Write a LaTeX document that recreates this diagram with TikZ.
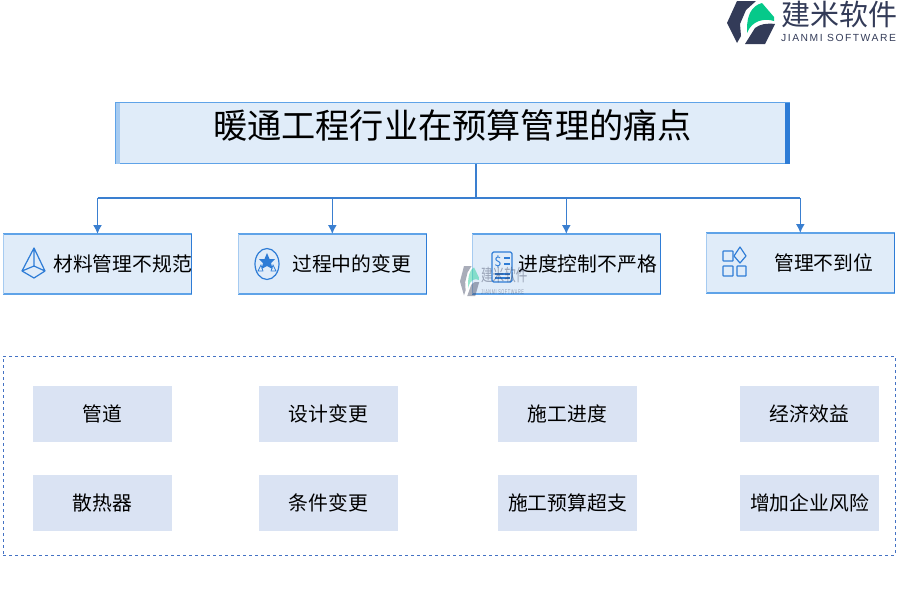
\documentclass[tikz,border=0pt]{standalone}
\usepackage{fontspec}
\setmainfont{Noto Sans CJK SC}
\newfontfamily\latinfont[LetterSpace=15]{Liberation Sans}
\usetikzlibrary{arrows.meta,positioning,calc}
\definecolor{surf}{HTML}{E0ECF9}
\definecolor{bdark}{HTML}{2E7CD6}
\definecolor{blite}{HTML}{A6CBF1}
\definecolor{bmid}{HTML}{5FA3E8}
\definecolor{linkc}{HTML}{3A7FD0}
\definecolor{itemc}{HTML}{DAE3F3}
\definecolor{dashc}{HTML}{4472C4}
\definecolor{logoc}{HTML}{333B58}
\definecolor{logog}{HTML}{06C98A}

\tikzset{
  logomark/.pic={
    \fill[logoc] (0,22) -- (10,0) -- (29,0) -- (19,9) -- (13,23) -- (14,35) -- (10,42) -- cycle;
    \fill[logog] (20,28) .. controls (20,15) and (24,5) .. (35,2) -- (47,16) -- (47,20) .. controls (38,17) and (25,19) .. (20,32) -- cycle;
    \fill[logoc] (18,43) -- (28,27) .. controls (33,23) and (40,22) .. (48,23) -- (38,43) -- cycle;
  },
}

\begin{document}
\begin{tikzpicture}[
  x=1pt,y=-1pt,>={Latex[length=9pt,width=9pt]},
  headbox/.style={draw=bmid, fill=surf, line width=1.5pt, outer sep=0pt, minimum width=674pt, minimum height=61pt, inner sep=0pt},
  cardbox/.style={draw=bmid, fill=surf, line width=1.5pt, outer sep=0pt, minimum width=188pt, minimum height=60pt, inner sep=0pt},
  cardtext/.style={anchor=west, inner sep=0pt, font=\fontsize{19.8pt}{22pt}\selectfont},
  itembox/.style={fill=itemc, outer sep=0pt, minimum width=139pt, minimum height=56pt, inner sep=0pt, font=\fontsize{19.8pt}{22pt}\selectfont},
  link/.style={draw=linkc, line width=1.5pt},
  iconline/.style={draw=bdark, line width=1.2pt, line join=round},
]
\useasboundingbox (0,0) rectangle (900,600);
% logo top right
\pic at (727,1) {logomark};
\node[anchor=west, inner sep=0pt, text=logoc, font=\fontsize{29pt}{30pt}\selectfont] (logotext) at (781.5,14) {建米软件};
\node[anchor=west, inner sep=0pt, text=logoc, font=\latinfont\fontsize{10.3pt}{12pt}\selectfont] (logosub) at (781,38) {JIANMI SOFTWARE};
% heading
\node[headbox] (title) at (452.5,133) {};
\fill[blite] (title.north west) rectangle ($(title.south west)+(4,0)$);
\fill[bdark] ($(title.north east)+(-5,0)$) rectangle (title.south east);
\node[inner sep=0pt, font=\fontsize{34.2pt}{36pt}\selectfont] (titletext) at (452.5,125) {暖通工程行业在预算管理的痛点};
% four cards
\node[cardbox] (c1) at (97.5,264) {};
\node[cardbox, right=46.8pt of c1] (c2) {};
\node[cardbox, right=46pt of c2] (c3) {};
\node[cardbox, right=46pt of c3, yshift=1pt] (c4) {};
\foreach \n in {c1,c2,c3,c4}{
  \draw[blite, line width=1.5pt] (\n.north west) -- (\n.south west);
  \draw[bdark, line width=1.5pt] (\n.north east) -- (\n.south east);
}
\node[cardtext] (l1) at (53,264) {材料管理不规范};
\node[cardtext] (l2) at (292,264) {过程中的变更};
\node[cardtext] (l3) at (518,264) {进度控制不严格};
\node[cardtext] (l4) at (774,263) {管理不到位};
% connectors
\coordinate (trunk) at (476,198);
\draw[link] (title.south -| trunk) -- (trunk);
\draw[link] (c1.north |- trunk) -- (c4.north |- trunk);
\foreach \n in {c1,c2,c3,c4}{
  \draw[link, ->] (\n.north |- trunk) -- (\n.north);
}
% icon pyramid
\draw[iconline] (34,248) -- (22,271) -- (34,278) -- (45,271) -- cycle (34,248) -- (34,266) (22,271) -- (34,266) -- (45,271);
% icon stars
\draw[iconline] (267,264) ellipse (12pt and 15.5pt);
\fill[bdark] (267,253) -- (269.5,259) -- (275,259) -- (271,263) -- (272.5,269) -- (267,266) -- (261.5,269) -- (263,263) -- (259,259) -- (264.5,259) -- cycle;
\draw[bdark, line width=.7pt] (261,265) -- (263,271) -- (258,271) -- cycle (273,265) -- (276,271) -- (271,271) -- cycle;
% icon sheet
\draw[iconline, rounded corners=1.5pt] (492,252) rectangle (512,282);
\node[inner sep=0pt, text=bdark, font=\fontsize{13pt}{14pt}\selectfont] (dollar) at (498,262) {\$};
\draw[iconline] (504,258) -- (510,258) (504,264) -- (510,264) (495,274) -- (510,274) (495,278) -- (510,278);
% icon squares
\draw[iconline, rounded corners=.5pt] (723,251) rectangle (733,261) (723,266) rectangle (733,276) (737,266) rectangle (746,276);
\draw[iconline] (740,247) -- (746,256) -- (740,263) -- (734,256) -- cycle;
% faded mark on card three
\begin{scope}[opacity=.42]
\pic[xscale=.4, yscale=.7] at (460,266) {logomark};
\node[anchor=west, inner sep=0pt, text=logoc, xscale=.68, transform shape, font=\fontsize{17pt}{18pt}\selectfont] (marktext) at (481,275) {建米软件};
\node[anchor=west, inner sep=0pt, text=logoc, xscale=.55, transform shape, font=\latinfont\fontsize{7pt}{8pt}\selectfont] (marksub) at (481,292) {JIANMI SOFTWARE};
\end{scope}
% lower panel
\node[draw=dashc, dashed, line width=.9pt, outer sep=0pt, minimum width=892pt, minimum height=199pt, inner sep=0pt] (panel) at (449,455.5) {};
\node[itembox] (d1) at (102.5,414) {管道};
\node[itembox, below=33pt of d1] (d2) {散热器};
\node[itembox, right=87pt of d1] (d3) {设计变更};
\node[itembox, below=33pt of d3] (d4) {条件变更};
\node[itembox, right=100pt of d3] (d5) {施工进度};
\node[itembox, below=33pt of d5] (d6) {施工预算超支};
\node[itembox, right=103pt of d5] (d7) {经济效益};
\node[itembox, below=33pt of d7] (d8) {增加企业风险};
\end{tikzpicture}
\end{document}
